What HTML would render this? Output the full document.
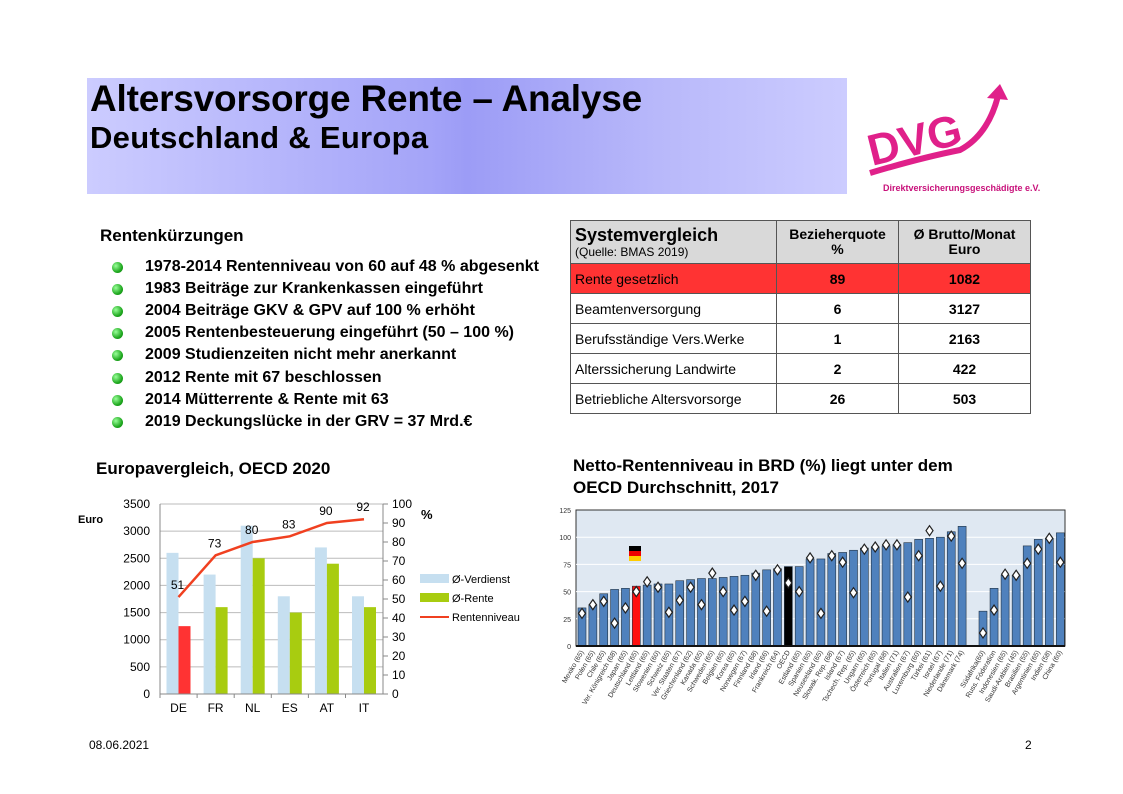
<!DOCTYPE html>
<html><head><meta charset="utf-8"><style>
body{margin:0;background:#fff;font-family:"Liberation Sans",sans-serif;}
#p{position:relative;width:1123px;height:794px;overflow:hidden;}
.a{position:absolute;white-space:nowrap;}
.ban{position:absolute;left:87px;top:78px;width:760px;height:116px;background:linear-gradient(90deg,#ccccff 0%,#a4a4f8 45%,#9c9cf6 50%,#b8b8fa 75%,#ccccff 100%);}
.bl{position:absolute;left:112px;width:11px;height:11px;border-radius:50%;background:radial-gradient(circle at 35% 35%,#9f9,#2a2 60%,#070);}
table{position:absolute;left:570px;top:220px;border-collapse:collapse;font-size:14px;}
td{border:1px solid #555;height:29px;padding:0 4px;}
td.c{text-align:center;font-weight:bold;}
</style></head><body><div id="p">
<div class="ban"></div>
<div class="a" style="left:90px;top:78px;font-size:37px;font-weight:bold;letter-spacing:-0.2px">Altersvorsorge Rente – Analyse</div>
<div class="a" style="left:90px;top:120px;font-size:31px;font-weight:bold;letter-spacing:0.3px">Deutschland &amp; Europa</div>

<svg class="a" style="left:860px;top:80px" width="220" height="120">
<text x="12" y="86" font-family="Liberation Sans" font-weight="bold" font-size="44" fill="#e0208a" transform="rotate(-14 12 86)">DVG</text>
<path d="M10 93 Q60 78 100 70 Q128 55 138 16" fill="none" stroke="#e0208a" stroke-width="6"/>
<path d="M127 18 L140 4 L148 20 Z" fill="#e0208a"/>
<text x="23" y="111" font-family="Liberation Sans" font-weight="bold" font-size="9" fill="#c8107a">Direktversicherungsgeschädigte e.V.</text>
</svg>

<div class="a" style="left:100px;top:226px;font-size:17px;font-weight:bold">Rentenkürzungen</div>
<div id="bul"></div>

<table>
<tr style="background:#d9d9d9"><td style="width:197px;height:42px;line-height:1"><b style="font-size:18px">Systemvergleich</b><br><span style="font-size:12px">(Quelle: BMAS 2019)</span></td><td class="c" style="width:113px;line-height:1.1">Bezieherquote<br>%</td><td class="c" style="width:123px;line-height:1.1">Ø Brutto/Monat<br>Euro</td></tr>
<tr style="background:#ff3333"><td>Rente gesetzlich</td><td class="c">89</td><td class="c">1082</td></tr>
<tr><td>Beamtenversorgung</td><td class="c">6</td><td class="c">3127</td></tr>
<tr><td>Berufsständige Vers.Werke</td><td class="c">1</td><td class="c">2163</td></tr>
<tr><td>Alterssicherung Landwirte</td><td class="c">2</td><td class="c">422</td></tr>
<tr><td>Betriebliche Altersvorsorge</td><td class="c">26</td><td class="c">503</td></tr>
</table>

<div class="a" style="left:96px;top:459px;font-size:17px;font-weight:bold">Europavergleich, OECD 2020</div>
<div class="a" style="left:573px;top:455px;font-size:17px;font-weight:bold;line-height:22px">Netto-Rentenniveau in BRD (%) liegt unter dem<br>OECD Durchschnitt, 2017</div>
<div class="a" style="left:89px;top:738px;font-size:12px">08.06.2021</div>
<div class="a" style="left:1025px;top:738px;font-size:12px">2</div>

<svg id="s" class="a" style="left:0;top:0" width="1123" height="794" font-family="Liberation Sans"></svg>
</div>
<script>
var items=["1978-2014 Rentenniveau von 60 auf 48 % abgesenkt","1983 Beiträge zur Krankenkassen eingeführt","2004 Beiträge GKV &amp; GPV auf 100 % erhöht","2005 Rentenbesteuerung eingeführt (50 – 100 %)","2009 Studienzeiten nicht mehr anerkannt","2012 Rente mit 67 beschlossen","2014 Mütterrente &amp; Rente mit 63","2019 Deckungslücke in der GRV = 37 Mrd.€"];
var h="";items.forEach(function(t,i){var y=258+i*22.1;h+='<div class="bl" style="top:'+(y+4)+'px"></div><div class="a" style="left:145px;top:'+y+'px;font-size:16px;font-weight:bold">'+t+'</div>';});
document.getElementById("bul").innerHTML=h;
var s="";
for(var k=0;k<=7;k++){var y=694-k*190/7;s+='<line x1="160" x2="383" y1="'+y+'" y2="'+y+'" stroke="#bbb"/><text x="150" y="'+(y+4)+'" font-size="12" text-anchor="end">'+(k*500)+'</text>';}
for(var k=0;k<=10;k++){var y=694-k*19;s+='<line x1="383" x2="388" y1="'+y+'" y2="'+y+'" stroke="#888"/><text x="392" y="'+(y+4)+'" font-size="12">'+(k*10)+'</text>';}
s+='<line x1="160" x2="160" y1="504" y2="694" stroke="#888"/><line x1="383" x2="383" y1="504" y2="694" stroke="#888"/>';
var cat=["DE","FR","NL","ES","AT","IT"],ver=[2600,2200,3100,1800,2700,1800],ren=[1250,1600,2500,1500,2400,1600],pc=[51,73,80,83,90,92];
var pts=[];
for(var i=0;i<6;i++){var cx=160+37.1*i+18.5;var hv=ver[i]*190/3500,hr=ren[i]*190/3500;
s+='<rect x="'+(cx-12)+'" y="'+(694-hv)+'" width="12" height="'+hv+'" fill="#c6dff0"/>';
s+='<rect x="'+cx+'" y="'+(694-hr)+'" width="12" height="'+hr+'" fill="'+(i==0?'#ff3333':'#a8cc10')+'"/>';
s+='<text x="'+cx+'" y="712" font-size="12" text-anchor="middle">'+cat[i]+'</text>';
s+='<line x1="'+(160+37.1*i)+'" x2="'+(160+37.1*i)+'" y1="694" y2="698" stroke="#888"/>';
var py=694-pc[i]*1.9;pts.push(cx+","+py);s+='<text x="'+(cx-1)+'" y="'+(py-8)+'" font-size="12" text-anchor="middle">'+pc[i]+'</text>';}
s+='<line x1="160" x2="383" y1="694" y2="694" stroke="#888"/>';
s+='<polyline points="'+pts.join(" ")+'" fill="none" stroke="#f04020" stroke-width="2.5"/>';
s+='<rect x="420" y="574" width="29" height="9" fill="#c6dff0"/><text x="452" y="583" font-size="11">Ø-Verdienst</text>';
s+='<rect x="420" y="593" width="29" height="9" fill="#a8cc10"/><text x="452" y="602" font-size="11">Ø-Rente</text>';
s+='<line x1="420" x2="449" y1="617" y2="617" stroke="#f04020" stroke-width="2"/><text x="452" y="621" font-size="11">Rentenniveau</text>';
s+='<text x="78" y="523" font-size="11" font-weight="bold">Euro</text><text x="421" y="519" font-size="13" font-weight="bold">%</text>';
s+='<rect x="576" y="510" width="489" height="136" fill="#dfe8f2" stroke="#333"/>';
for(var k=0;k<=5;k++){var y=646-k*27.2;if(k>0&&k<5)s+='<line x1="576" x2="1065" y1="'+y+'" y2="'+y+'" stroke="#fff"/>';s+='<text x="571" y="'+(y+3)+'" font-size="7" text-anchor="end" fill="#333">'+(k*25)+'</text>';}
var L=[["Mexiko (65)",35,30],["Polen (65)",38,38],["Chile (65)",48,41],["Ver. Königreich (68)",52,21],["Japan (65)",53,35],["Deutschland (65)",55,50],["Lettland (65)",56,59],["Slowenien (60)",57,54],["Schweiz (65)",57,31],["Ver. Staaten (67)",60,42],["Griechenland (62)",61,54],["Kanada (65)",62,38],["Schweden (65)",62,67],["Belgien (65)",63,50],["Korea (65)",64,33],["Norwegen (67)",65,41],["Finnland (68)",67,65],["Irland (66)",70,32],["Frankreich (64)",71,70],["OECD",73,58],["Estland (65)",73,50],["Spanien (65)",80,81],["Neuseeland (65)",80,30],["Slowak. Rep. (68)",85,83],["Island (67)",86,77],["Tschech. Rep. (65)",88,49],["Ungarn (65)",90,89],["Österreich (65)",91,91],["Portugal (68)",92,93],["Italien (71)",93,93],["Australien (67)",95,45],["Luxemburg (60)",98,83],["Türkei (61)",99,106],["Israel (67)",100,55],["Niederlande (71)",105,101],["Dänemark (74)",110,76]];
var R=[["Südafrika(60)",32,12],["Russ. Föderation",53,33],["Indonesien (65)",65,66],["Saudi-Arabien (45)",65,65],["Brasilien (55)",92,76],["Argentinien (65)",98,89],["Indien (58)",99,99],["China (60)",104,77]];
function bar(x,d,col){var hh=d[1]*1.088;s+='<rect x="'+x+'" y="'+(646-hh)+'" width="8" height="'+hh+'" fill="'+col+'" stroke="#234" stroke-width="0.6"/>';
var dy=646-d[2]*1.088,cx=x+4;s+='<path d="M'+cx+' '+(dy-5)+' L'+(cx+3.5)+' '+dy+' L'+cx+' '+(dy+5)+' L'+(cx-3.5)+' '+dy+'Z" fill="#fff" stroke="#222" stroke-width="1.2"/>';
s+='<text transform="translate('+(cx+2)+',652) rotate(-60)" font-size="7" text-anchor="end" fill="#333">'+d[0]+'</text>';}
L.forEach(function(d,i){var x=578+i*10.86;bar(x,d,i==5?'#ff1010':(i==19?'#000':'#4f81bd'));});
R.forEach(function(d,i){bar(979+i*11.05,d,'#4f81bd');});
s+='<line x1="576" x2="1065" y1="646" y2="646" stroke="#111" stroke-width="2"/>';
s+='<rect x="629" y="546" width="12" height="5" fill="#000"/><rect x="629" y="551" width="12" height="5" fill="#e00"/><rect x="629" y="556" width="12" height="5" fill="#fc0"/>';
document.getElementById("s").innerHTML=s;
</script>
</body></html>
